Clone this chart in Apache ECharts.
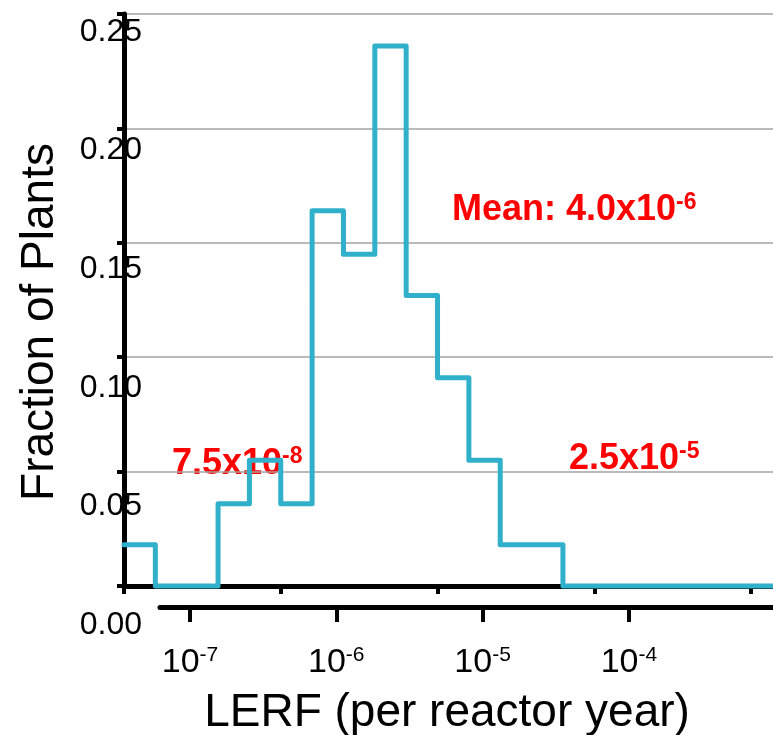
<!DOCTYPE html>
<html>
<head>
<meta charset="utf-8">
<script src="https://cdn.jsdelivr.net/npm/echarts@6/dist/echarts.min.js"></script>
<style>
  html, body { margin: 0; padding: 0; background: #fff; }
  #chart { width: 773px; height: 735px; }
</style>
</head>
<body>
<div id="chart"></div>
<script>
// fraction of plants in each LERF bin (bins are 0.2 decade wide)
const fractions = [0.018, 0, 0, 0.036, 0.055, 0.036, 0.164, 0.145, 0.236, 0.127, 0.091, 0.055, 0.018, 0.018, 0, 0, 0, 0, 0, 0, 0]
const binEnd = 20.7
const binTicks = [0, 5, 10, 15, 20]
const decades = [-7, -6, -5, -4]

const FONT = 'Liberation Sans, Arial, Helvetica, sans-serif'
const CYAN = '#31b0cb'

// step points: left edge of each bin, plus the right end
const stepData = fractions.map((v, i) => [i, v])
stepData.push([binEnd, fractions[fractions.length - 1]])

const chart = echarts.init(document.getElementById('chart'))

function redNote(main, sup, x, y) {
  return {
    type: 'text', x, y, z: 0, zlevel: 0,
    style: {
      text: '{b|' + main + '}{s|' + sup + '}', align: 'left', verticalAlign: 'middle',
      rich: {
        b: { fontFamily: FONT, fontWeight: 'bold', fontSize: 36, fill: '#ff0000', lineHeight: 38 },
        s: { fontFamily: FONT, fontWeight: 'bold', fontSize: 23, fill: '#ff0000', lineHeight: 22, verticalAlign: 'top' },
      },
    },
  }
}

const option = {
  animation: false,
  backgroundColor: '#fff',
  grid: [
    { left: 124, top: 14, width: 649, height: 572 },
    { left: 160, top: 606, right: 0, height: 1 },
    { left: 124, top: 32, width: 1, height: 593 },
  ],
  xAxis: [
    {
      gridIndex: 0, type: 'value', min: 0, max: binEnd,
      axisLine: { show: true, onZero: false, lineStyle: { color: '#000', width: 5 } },
      axisTick: { show: true, length: 8, customValues: binTicks, lineStyle: { color: '#000', width: 4 } },
      axisLabel: { show: false },
      splitLine: { show: false },
    },
    {
      gridIndex: 1, type: 'value', min: -7.205, max: -3.015, position: 'bottom',
      axisLine: { show: true, onZero: false, lineStyle: { color: '#000', width: 5 } },
      axisTick: { show: true, length: 15, customValues: decades, lineStyle: { color: '#000', width: 4 } },
      axisLabel: {
        show: true, margin: 38, customValues: decades,
        formatter: v => '{b|10}{s|' + v + '}',
        rich: {
          b: { fontFamily: FONT, fontSize: 34, color: '#000', lineHeight: 36 },
          s: { fontFamily: FONT, fontSize: 21, color: '#000', lineHeight: 20, verticalAlign: 'top' },
        },
      },
      splitLine: { show: false },
    },
    { gridIndex: 2, type: 'value', min: 0, max: 1, show: false },
  ],
  yAxis: [
    {
      gridIndex: 0, type: 'value', min: 0, max: 0.25, interval: 0.05,
      axisLine: { show: true, lineStyle: { color: '#000', width: 5 } },
      axisTick: { show: true, length: 7, lineStyle: { color: '#000', width: 4 } },
      axisLabel: { show: false },
      splitLine: { show: true, lineStyle: { color: '#a3a3a3', width: 1.5 } },
    },
    { gridIndex: 1, type: 'value', min: 0, max: 1, show: false },
    {
      gridIndex: 2, type: 'value', min: 0, max: 0.25, interval: 0.05,
      axisLine: { show: false },
      axisTick: { show: false },
      splitLine: { show: false },
      axisLabel: {
        show: true, margin: -18, color: '#000', fontFamily: FONT, fontSize: 32,
        formatter: v => v.toFixed(2),
      },
    },
  ],
  series: [{
    type: 'line',
    xAxisIndex: 0,
    yAxisIndex: 0,
    step: 'end',
    data: stepData,
    symbol: 'none',
    clip: false,
    zlevel: 1,
    z: 5,
    lineStyle: { color: CYAN, width: 5, join: 'round', cap: 'round' },
  }],
  graphic: [
    {
      type: 'text', x: 40, y: 322, rotation: Math.PI / 2,
      style: { text: 'Fraction of Plants', fill: '#000', font: '46px ' + FONT, align: 'center', verticalAlign: 'middle' },
    },
    {
      type: 'text', x: 447, y: 713,
      style: { text: 'LERF (per reactor year)', fill: '#000', font: '46px ' + FONT, align: 'center', verticalAlign: 'middle' },
    },
    redNote('Mean: 4.0x10', '-6', 452, 210),
    redNote('7.5x10', '-8', 172, 464),
    redNote('2.5x10', '-5', 569, 459),
  ],
}

chart.setOption(option)
window.addEventListener('resize', () => chart.resize())
</script>
</body>
</html>
